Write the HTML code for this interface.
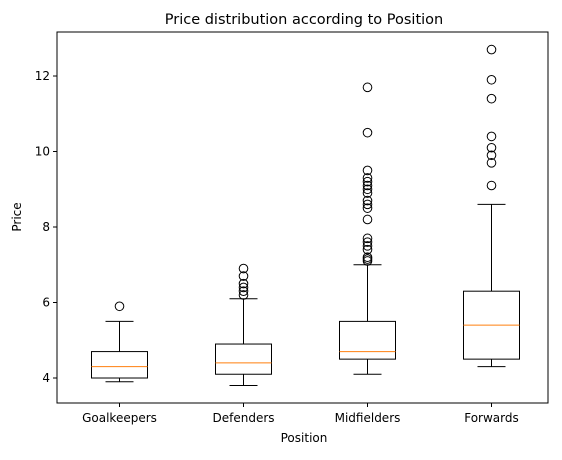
<!DOCTYPE html>
<html><head><meta charset="utf-8"><style>
body{margin:0;background:#fff;font-family:"Liberation Sans","DejaVu Sans",sans-serif}
svg text{font-family:"DejaVu Sans","Liberation Sans",sans-serif;font-size:12px;fill:#000}
</style></head><body>
<svg id="c" width="562" height="455" xmlns="http://www.w3.org/2000/svg">
<rect width="562" height="455" fill="#fff"/>
<text x="304" y="24" text-anchor="middle" style="font-size:14.5px">Price distribution according to Position</text>
<text x="304" y="442" text-anchor="middle">Position</text>
<text transform="translate(21,217) rotate(-90)" text-anchor="middle">Price</text>
<g id="marks"></g>
<rect x="57" y="32" width="491" height="371" fill="none" stroke="#000" stroke-width="1"/>
</svg>
<script>
const categories=["Goalkeepers","Defenders","Midfielders","Forwards"];
const whiskerLow=[3.9,3.8,4.1,4.3];
const q1=[4.0,4.1,4.5,4.5];
const median=[4.3,4.4,4.7,5.4];
const q3=[4.7,4.9,5.5,6.3];
const whiskerHigh=[5.5,6.1,7.0,8.6];
const outliers=[[5.9],[6.2,6.3,6.4,6.5,6.7,6.9],[7.1,7.15,7.2,7.4,7.5,7.6,7.7,8.2,8.5,8.6,8.7,8.9,9.0,9.1,9.2,9.3,9.5,10.5,11.7],[9.1,9.7,9.9,10.1,10.4,11.4,11.9,12.7]];
const yTicks=[4,6,8,10,12];
const NS="http://www.w3.org/2000/svg";
const g=document.getElementById('marks');
const L=57,R=548,T=32,B=403;
const yMin=3.338,yMax=13.166;
const y=v=>B-(v-yMin)/(yMax-yMin)*(B-T);
const x=i=>119.5+i*124;
function mk(t,a){const e=document.createElementNS(NS,t);for(const k in a)e.setAttribute(k,a[k]);g.appendChild(e);return e;}
yTicks.forEach(v=>{
 const t=mk('line',{x1:L-4,x2:L,y1:y(v),y2:y(v),stroke:'#000'});
 
 
 const l=mk('text',{x:L-7,y:y(v)+4,'text-anchor':'end'});l.textContent=v;
 
 
});
categories.forEach((c,i)=>{
 const cx=x(i),hw=28,cw=14;
 const t=mk('line',{x1:cx,x2:cx,y1:B,y2:B+4,stroke:'#000'});
 
 
 const l=mk('text',{x:cx,y:B+19,'text-anchor':'middle'});l.textContent=c;
 
 
 const w1=mk('line',{x1:cx,x2:cx,y1:y(whiskerLow[i]),y2:y(q1[i]),stroke:'#000'});
 
 
 const w2=mk('line',{x1:cx,x2:cx,y1:y(q3[i]),y2:y(whiskerHigh[i]),stroke:'#000'});
 
 
 const c1=mk('line',{x1:cx-cw,x2:cx+cw,y1:y(whiskerLow[i]),y2:y(whiskerLow[i]),stroke:'#000'});
 
 
 const c2=mk('line',{x1:cx-cw,x2:cx+cw,y1:y(whiskerHigh[i]),y2:y(whiskerHigh[i]),stroke:'#000'});
 
 
 const b=mk('rect',{x:cx-hw,y:y(q3[i]),width:2*hw,height:y(q1[i])-y(q3[i]),fill:'none',stroke:'#000'});
 
 
 const m=mk('line',{x1:cx-hw,x2:cx+hw,y1:y(median[i]),y2:y(median[i]),stroke:'#ff7f0e'});
 
 
 outliers[i].forEach(v=>{
  const o=mk('circle',{cx:cx,cy:y(v),r:4.3,fill:'none',stroke:'#000'});
  
  
 });
});
</script>
</body></html>
